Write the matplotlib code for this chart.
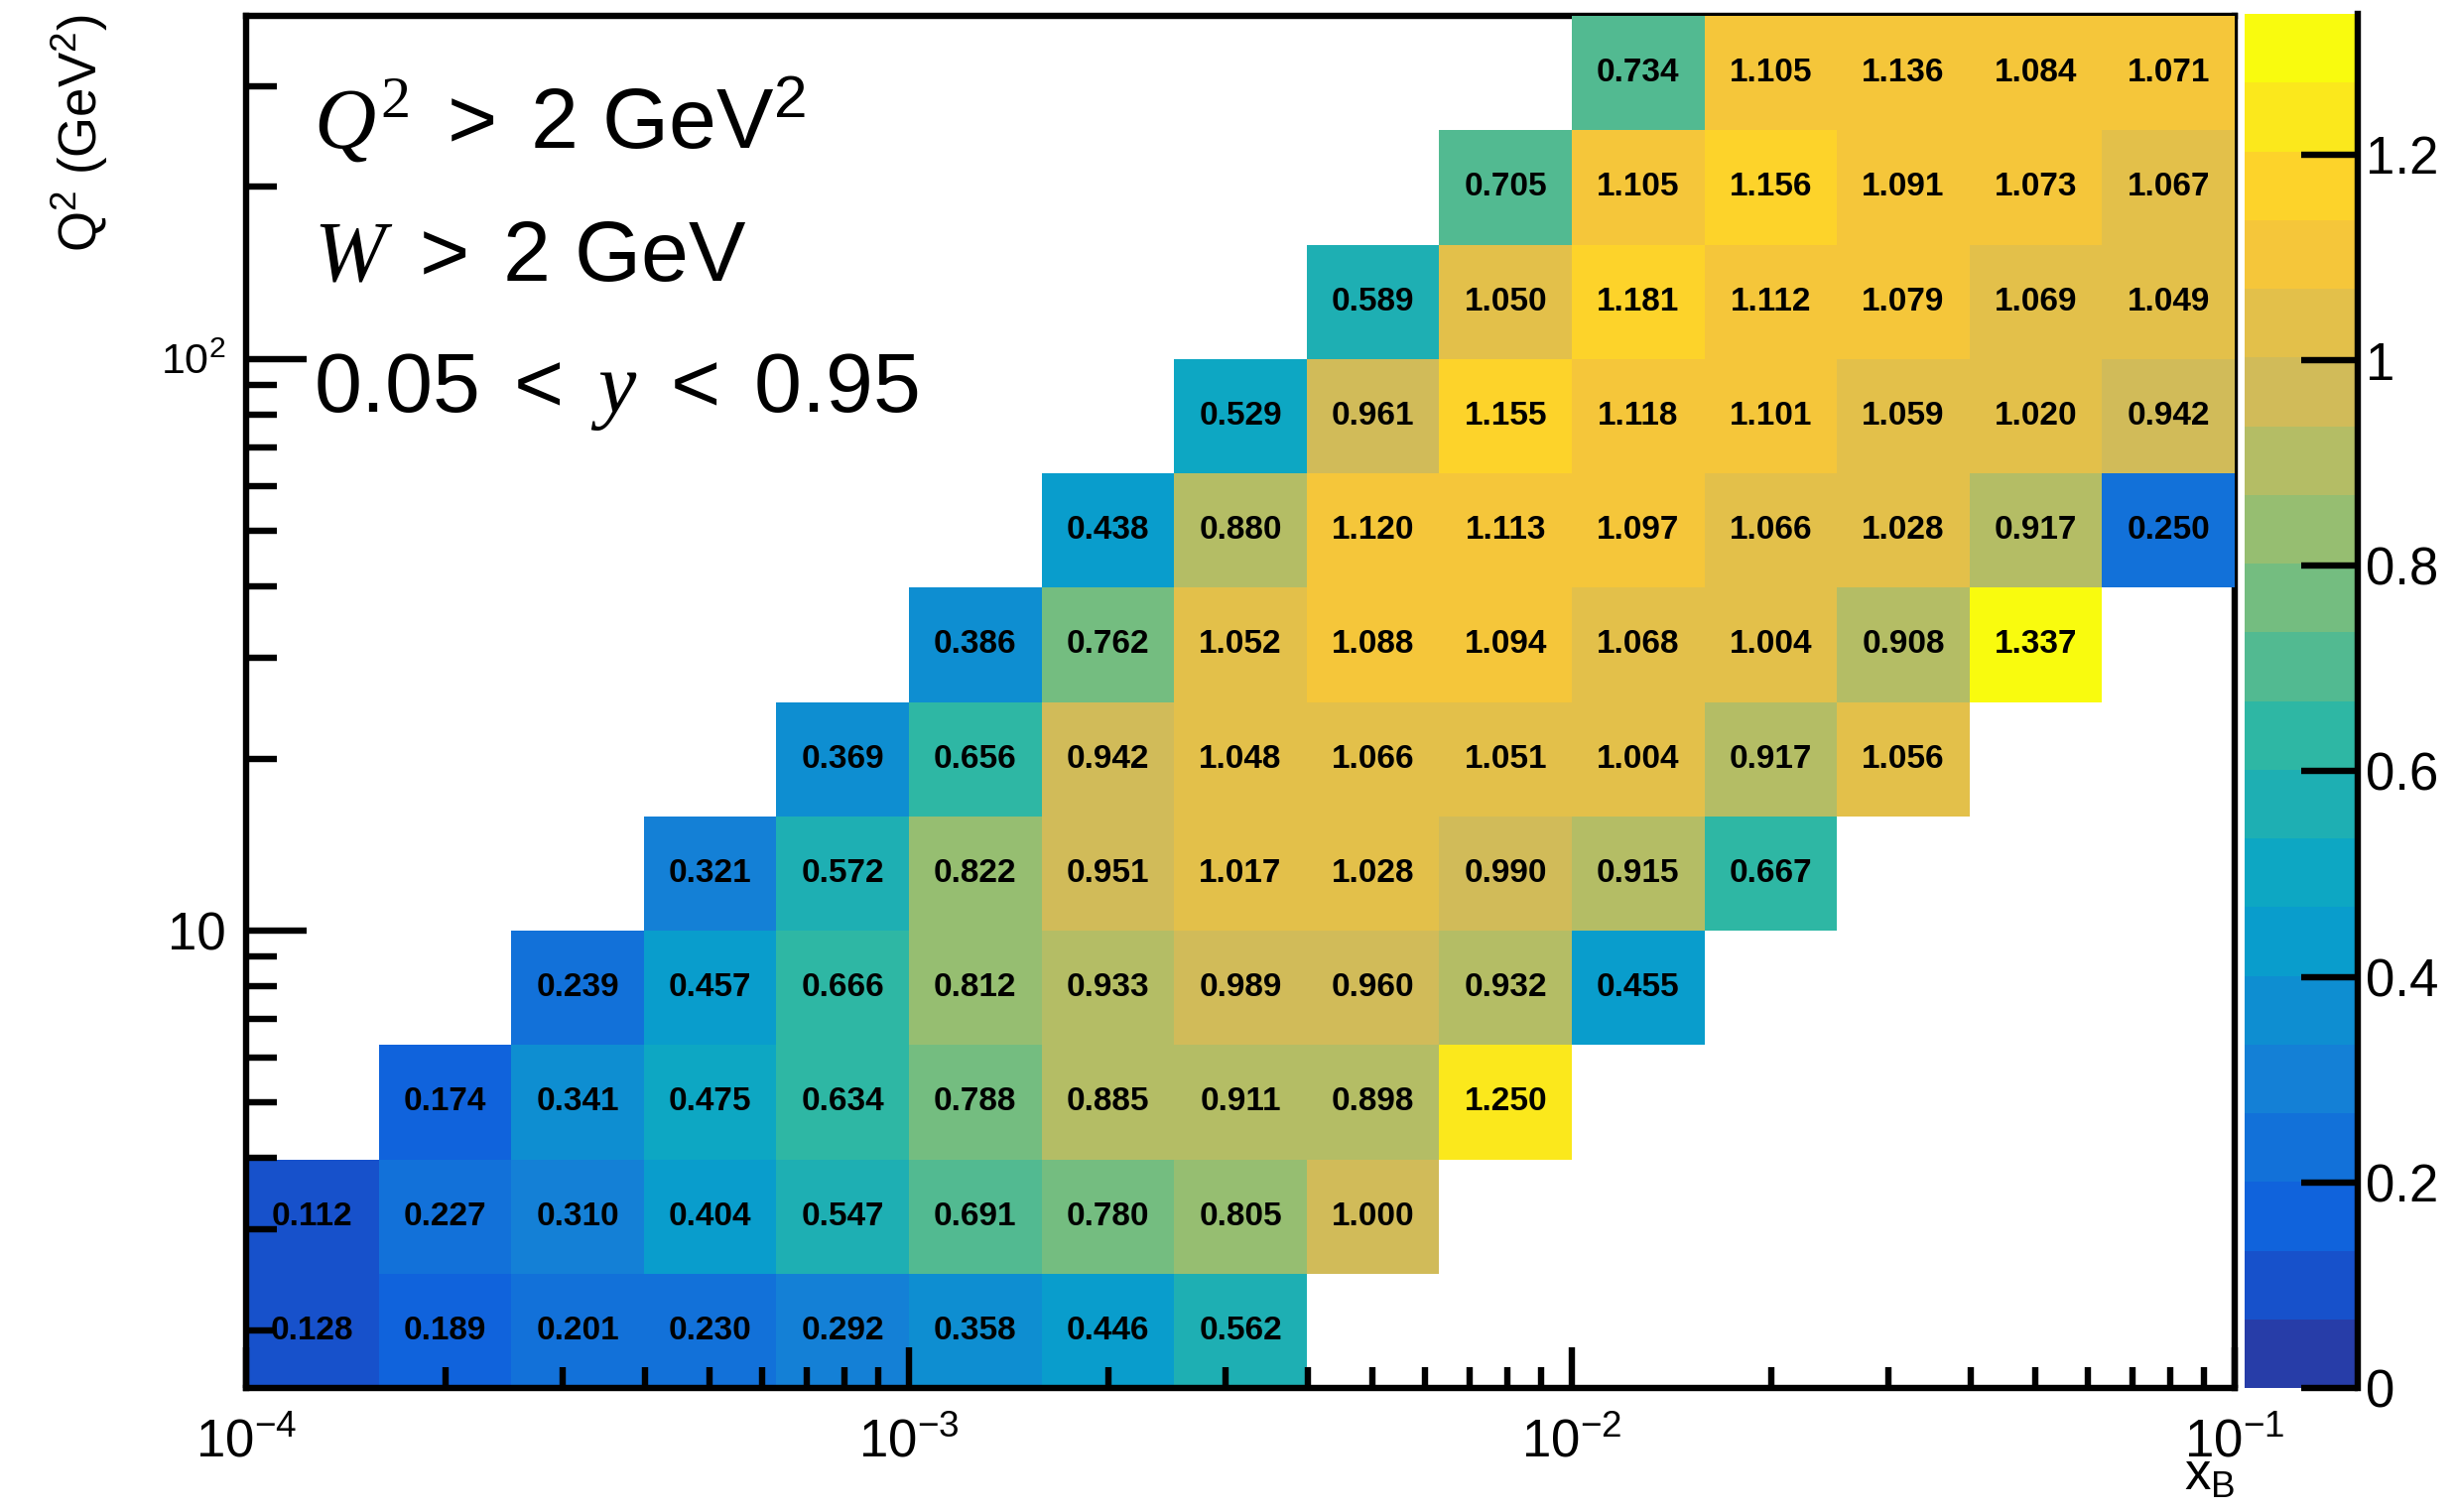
import numpy as np
import matplotlib
matplotlib.use('Agg')
import matplotlib.pyplot as plt
from matplotlib import ticker, font_manager
from matplotlib.colors import LinearSegmentedColormap, ListedColormap, BoundaryNorm

# binning: log10 edges
x_log_lo, x_log_hi, n_xbins = -4, -1, 15
q2_log_lo, q2_log_hi, n_q2bins = 0.2, 2.6, 12

# first x bin filled in each Q2 row (bottom row first)
first_xbin = [0, 0, 1, 2, 3, 4, 5, 6, 7, 8, 9, 10]

ratio_q2bin_00 = [0.128, 0.189, 0.201, 0.230, 0.292, 0.358, 0.446, 0.562]
ratio_q2bin_01 = [0.112, 0.227, 0.310, 0.404, 0.547, 0.691, 0.780, 0.805, 1.000]
ratio_q2bin_02 = [0.174, 0.341, 0.475, 0.634, 0.788, 0.885, 0.911, 0.898, 1.250]
ratio_q2bin_03 = [0.239, 0.457, 0.666, 0.812, 0.933, 0.989, 0.960, 0.932, 0.455]
ratio_q2bin_04 = [0.321, 0.572, 0.822, 0.951, 1.017, 1.028, 0.990, 0.915, 0.667]
ratio_q2bin_05 = [0.369, 0.656, 0.942, 1.048, 1.066, 1.051, 1.004, 0.917, 1.056]
ratio_q2bin_06 = [0.386, 0.762, 1.052, 1.088, 1.094, 1.068, 1.004, 0.908, 1.337]
ratio_q2bin_07 = [0.438, 0.880, 1.120, 1.113, 1.097, 1.066, 1.028, 0.917, 0.250]
ratio_q2bin_08 = [0.529, 0.961, 1.155, 1.118, 1.101, 1.059, 1.020, 0.942]
ratio_q2bin_09 = [0.589, 1.050, 1.181, 1.112, 1.079, 1.069, 1.049]
ratio_q2bin_10 = [0.705, 1.105, 1.156, 1.091, 1.073, 1.067]
ratio_q2bin_11 = [0.734, 1.105, 1.136, 1.084, 1.071]

rows = [ratio_q2bin_00, ratio_q2bin_01, ratio_q2bin_02, ratio_q2bin_03,
        ratio_q2bin_04, ratio_q2bin_05, ratio_q2bin_06, ratio_q2bin_07,
        ratio_q2bin_08, ratio_q2bin_09, ratio_q2bin_10, ratio_q2bin_11]

cbar_ticks = [0, 0.2, 0.4, 0.6, 0.8, 1.0, 1.2]
n_contours = 20

# ROOT kBird palette
bird_stops = [0.0000, 0.1250, 0.2500, 0.3750, 0.5000, 0.6250, 0.7500, 0.8750, 1.0000]
bird_red = [0.2082, 0.0592, 0.0780, 0.0232, 0.1802, 0.5301, 0.8186, 0.9956, 0.9764]
bird_green = [0.1664, 0.3599, 0.5041, 0.6419, 0.7178, 0.7492, 0.7328, 0.7862, 0.9832]
bird_blue = [0.5293, 0.8684, 0.8385, 0.7914, 0.6425, 0.4662, 0.3499, 0.1968, 0.0539]

W_PX, H_PX = 2475, 1524

font_names = {f.name for f in font_manager.fontManager.ttflist}
sans = 'Liberation Sans' if 'Liberation Sans' in font_names else 'DejaVu Sans'

plt.rcParams['font.family'] = [sans, 'DejaVu Sans']
plt.rcParams['mathtext.fontset'] = 'custom'
plt.rcParams['mathtext.rm'] = 'Liberation Serif'
plt.rcParams['mathtext.it'] = 'Liberation Serif:italic'
plt.rcParams['mathtext.bf'] = 'Liberation Serif:bold'
plt.rcParams['mathtext.sf'] = 'Liberation Sans'
plt.rcParams['mathtext.default'] = 'regular'


def fx(px):
    return px / W_PX


def fy(py):
    return 1 - py / H_PX


# histogram content
z = np.full((n_q2bins, n_xbins), np.nan)
for i, (start, row) in enumerate(zip(first_xbin, rows)):
    z[i, start:start + len(row)] = row
z = np.ma.masked_invalid(z)

x_edges = np.logspace(x_log_lo, x_log_hi, n_xbins + 1)
q2_edges = np.logspace(q2_log_lo, q2_log_hi, n_q2bins + 1)
x_cent = np.sqrt(x_edges[:-1] * x_edges[1:])
q2_cent = np.sqrt(q2_edges[:-1] * q2_edges[1:])

zmax = z.max()
levels = np.linspace(0, zmax, n_contours + 1)
bird = LinearSegmentedColormap.from_list(
    'bird', list(zip(bird_stops, zip(bird_red, bird_green, bird_blue))), N=255)
band_colors = [bird(int((i + 0.99) * 255 / n_contours)) for i in range(n_contours)]
cmap = ListedColormap(band_colors)
cmap.set_over(band_colors[-1])
cmap.set_bad((1, 1, 1, 0))
norm = BoundaryNorm(levels, n_contours)

fig = plt.figure(figsize=(W_PX / 100, H_PX / 100), dpi=100)
ax = fig.add_axes([fx(248), fy(1399), fx(2252) - fx(248), fy(16) - fy(1399)])
cax = fig.add_axes([fx(2262), fy(1399), fx(2376) - fx(2262), fy(14) - fy(1399)])

mesh = ax.pcolormesh(x_edges, q2_edges, z, cmap=cmap, norm=norm,
                     antialiased=False, linewidth=0, zorder=1)

for i in range(n_q2bins):
    for j in range(n_xbins):
        if z.mask[i, j]:
            continue
        ax.text(x_cent[j], q2_cent[i], '%.3f' % z[i, j], ha='center', va='center',
                fontsize=24, fontweight='bold', color='black', zorder=3)

ax.set_xscale('log')
ax.set_yscale('log')
ax.set_xlim(x_edges[0], x_edges[-1])
ax.set_ylim(q2_edges[0], q2_edges[-1])

lw = 4.6
for side in ['left', 'bottom']:
    ax.spines[side].set_linewidth(lw)
for side in ['top', 'right']:
    ax.spines[side].set_linewidth(lw)
    ax.spines[side].set_zorder(0.5)

ax.xaxis.set_major_locator(ticker.LogLocator(base=10, numticks=20))
ax.xaxis.set_minor_locator(ticker.LogLocator(base=10, subs=np.arange(2, 10), numticks=20))
ax.yaxis.set_major_locator(ticker.FixedLocator([10, 100]))
ax.yaxis.set_minor_locator(ticker.LogLocator(base=10, subs=np.arange(2, 10), numticks=20))
ax.xaxis.set_major_formatter(ticker.FuncFormatter(
    lambda v, p: r'$10^{%d}$' % round(np.log10(v))))
ax.yaxis.set_major_formatter(ticker.FuncFormatter(
    lambda v, p: '10' if round(np.log10(v)) == 1 else r'$10^{%d}$' % round(np.log10(v))))
ax.xaxis.set_minor_formatter(ticker.NullFormatter())
ax.yaxis.set_minor_formatter(ticker.NullFormatter())

ax.tick_params(which='both', direction='in', top=False, right=False, width=lw,
               labelsize=38)
ax.tick_params(axis='x', which='major', length=29.5, pad=22)
ax.tick_params(axis='x', which='minor', length=15)
ax.tick_params(axis='y', which='major', length=44, pad=15)
ax.tick_params(axis='y', which='minor', length=22)

# ROOT draws the 10^2 label smaller than the plain "10"
fig.canvas.draw()
for tick in ax.yaxis.get_major_ticks():
    if '^' in tick.label1.get_text():
        tick.label1.set_fontsize(31)

# colour palette axis
cb = fig.colorbar(mesh, cax=cax, ticks=cbar_ticks)
cb.outline.set_visible(False)
cax.spines['right'].set_visible(True)
cax.spines['right'].set_linewidth(lw)
cax.minorticks_off()
cax.yaxis.set_major_formatter(ticker.FuncFormatter(lambda v, p: '%g' % round(v, 3)))
cax.tick_params(axis='y', which='major', direction='in', length=41, width=lw,
                labelsize=38, pad=6, left=False, right=True)

# axis titles
fig.text(fx(2252), fy(1502), r'x$_{B}$', ha='right', va='baseline', fontsize=38)
fig.text(fx(80), fy(14), r'Q$^{2}$ (GeV$^{2}$)', rotation=90, ha='center', va='top',
         fontsize=38)

# cuts
cut_kw = dict(fontsize=62, ha='left', va='baseline')
fig.text(fx(316), fy(150), r'$\mathit{Q}^{\mathrm{2}}\,$ > $\,$2 GeV$^{2}$', **cut_kw)
fig.text(fx(316), fy(283), r'$\mathit{W}\,$ > $\,$2 GeV', **cut_kw)
fig.text(fx(316), fy(415), r'0.05 $\,$<$\,$ $\mathit{y}$ $\,$<$\,$ 0.95', **cut_kw)

fig.savefig('out.png', dpi=100)
